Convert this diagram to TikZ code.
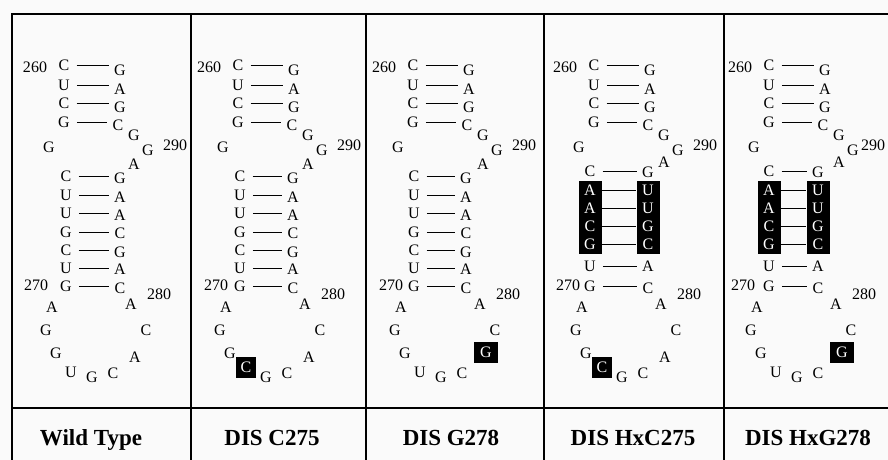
\documentclass[tikz,border=0pt]{standalone}
\usepackage{fontspec}
\setmainfont{Liberation Serif}
\newcommand\rnapanel[9]{%
\begin{scope}[xshift=#2]
\node[nt] (#1n260) at (35,67) {260};
\node[nt] (#1tL1) at (64,65) {C}; \node[nt] (#1tR1) at (120,70) {G};
\node[nt] (#1tL2) at (64,85) {U}; \node[nt] (#1tR2) at (120,89) {A};
\node[nt] (#1tL3) at (64,103) {C}; \node[nt] (#1tR3) at (120,107) {G};
\node[nt] (#1tL4) at (64,122) {G}; \node[nt] (#1tR4) at (118,125) {C};
\foreach \i in {1,...,4}{\draw[bp] (#1tL\i.east) -- (#1tL\i.east -| #1tR\i.west);}
\node[nt] (#1bg) at (49,147) {G};
\node[nt] (#1ga) at (134,135) {G};
\node[nt] (#1gb) at (148,150) {G};
\node[nt] (#1n290) at (#9,145) {290};
\ifnum#6=1
 \node[nt] (#1aa) at (134,162) {A};
 \node[nt] (#1bL1) at (#3,171) {C}; \node[nt] (#1bR1) at (#4,172) {G};
 \node[bx] (#1bL2) at (#3,190) {A}; \node[bx] (#1bR2) at (#4,190) {U};
 \node[bx] (#1bL3) at (#3,208) {A}; \node[bx] (#1bR3) at (#4,208) {U};
 \node[bx] (#1bL4) at (#3,226) {C}; \node[bx] (#1bR4) at (#4,226) {G};
 \node[bx] (#1bL5) at (#3,244) {G}; \node[bx] (#1bR5) at (#4,244) {C};
 \foreach \i in {2,...,5}{\draw[bpx] (#1bL\i.east) -- (#1bL\i.east -| #1bR\i.west);}
 \node[nt] (#1bL6) at (#3,266) {U}; \node[nt] (#1bR6) at (#4,266) {A};
\else
 \node[nt] (#1aa) at (134,164) {A};
 \node[nt] (#1bL1) at (#3,176) {C}; \node[nt] (#1bR1) at (#4,178) {G};
 \node[nt] (#1bL2) at (#3,195) {U}; \node[nt] (#1bR2) at (#4,197) {A};
 \node[nt] (#1bL3) at (#3,213) {U}; \node[nt] (#1bR3) at (#4,215) {A};
 \node[nt] (#1bL4) at (#3,232) {G}; \node[nt] (#1bR4) at (#4,233) {C};
 \node[nt] (#1bL5) at (#3,250) {C}; \node[nt] (#1bR5) at (#4,252) {G};
 \foreach \i in {2,...,5}{\draw[bp] (#1bL\i.east) -- (#1bL\i.east -| #1bR\i.west);}
 \node[nt] (#1bL6) at (#3,268) {U}; \node[nt] (#1bR6) at (#4,269) {A};
\fi
\node[nt] (#1bL7) at (#3,286) {G}; \node[nt] (#1bR7) at (#4,288) {C};
\foreach \i in {1,6,7}{\draw[bp] (#1bL\i.east) -- (#1bL\i.east -| #1bR\i.west);}
\node[nt] (#1n270) at (#5,285) {270};
\node[nt] (#1la) at (52,307) {A};
\node[nt] (#1lb) at (46,330) {G};
\node[nt] (#1lc) at (56,353) {G};
\ifnum#7=1
 \node[nt, fill=black, text=white, minimum width=20pt, minimum height=21pt] (#1ld) at (72,367) {C};
\else
 \node[nt] (#1ld) at (71,372) {U};
\fi
\node[nt] (#1le) at (92,377) {G};
\node[nt] (#1lf) at (113,373) {C};
\ifnum#8=1
 \node[nt, fill=black, text=white, minimum width=24pt, minimum height=21pt] (#1lg) at (137,352) {G};
\else
 \node[nt] (#1lg) at (135,357) {A};
\fi
\node[nt] (#1lh) at (146,330) {C};
\node[nt] (#1li) at (131,304) {A};
\node[nt] (#1n280) at (159,294) {280};
\end{scope}}
\begin{document}
\begin{tikzpicture}[x=1pt,y=-1pt,
  nt/.style={font=\fontsize{16}{16}\selectfont, inner sep=0pt, text height=10.5pt, text depth=0pt},
  bx/.style={nt, fill=black, text=white, minimum width=23pt, minimum height=19pt},
  bp/.style={line width=1pt, shorten <=7pt, shorten >=5pt},
  bpx/.style={line width=1pt},
  frame/.style={line width=1.2pt},
  lab/.style={font=\bfseries\fontsize{23}{23}\selectfont, inner sep=0pt, anchor=base}]
\path[fill=black!2] (0,0) rectangle (888,460);
\useasboundingbox (0,0) rectangle (888,460);
% table frame
\draw[frame] (888,14) -- (12,14) -- (12,460);
\draw[frame] (12,408) -- (888,408);
\foreach \x in {191,366,544,724}{\draw[frame] (\x,14) -- (\x,460);}
% panels
\rnapanel{pa}{0}{66}{120}{36}{0}{0}{0}{175}
\rnapanel{pb}{174}{66}{119}{42}{0}{1}{0}{175}
\rnapanel{pc}{349}{65}{117}{42}{0}{0}{1}{175}
\rnapanel{pd}{530}{60}{118}{38}{1}{1}{0}{175}
\rnapanel{pe}{705}{64}{113}{38}{1}{0}{1}{168}
% labels
\node[lab] (lwt) at (91,445) {Wild Type};
\node[lab] (lc) at (272,445) {DIS C275};
\node[lab] (lg) at (451,445) {DIS G278};
\node[lab] (lhc) at (633,445) {DIS HxC275};
\node[lab] (lhg) at (808,445) {DIS HxG278};
\end{tikzpicture}
\end{document}
